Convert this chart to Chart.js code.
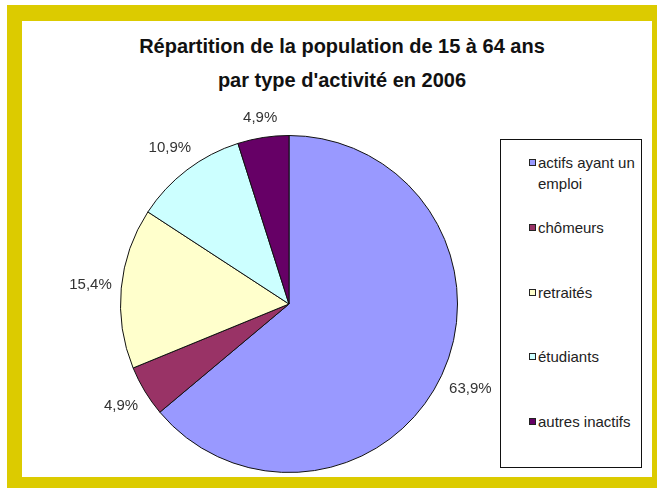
<!DOCTYPE html>
<html>
<head>
<meta charset="utf-8">
<script src="https://cdn.jsdelivr.net/npm/chart.js@4.4.0/dist/chart.umd.min.js"></script>
<style>
    body { margin: 0; width: 657px; height: 488px; background: #fff; overflow: hidden; position: relative; font-family: "Liberation Sans", Arial, sans-serif; }
    #frame { position: absolute; left: 7px; top: 5px; width: 650px; height: 483px; background: #dccb00; }
    #panel { position: absolute; left: 22px; top: 21px; width: 630px; height: 456px; background: #fff; }
    #title { position: absolute; left: 22px; width: 640px; top: 29px; text-align: center; font-weight: bold; font-size: 20px; line-height: 34px; color: #111; }
    #chart { position: absolute; left: 0; top: 0; }
    #legend { position: absolute; left: 500px; top: 139px; width: 140px; height: 327px; border: 1px solid #111; background: #fff; }
    .item { position: absolute; left: 37px; width: 104px; font-size: 15px; line-height: 21px; color: #222; }
    .box { position: absolute; left: -9px; top: 7px; width: 5px; height: 5px; border: 1px solid #222; }
</style>
</head>
<body>
<div id="frame"></div>
<div id="panel"></div>
<div id="title">Répartition de la population de 15 à 64 ans<br>par type d'activité en 2006</div>
<canvas id="chart" width="657" height="488"></canvas>
<div id="legend"></div>
<script>
// Chart data
const categories = ['actifs ayant un emploi', 'chômeurs', 'retraités', 'étudiants', 'autres inactifs'];
const percentages = [63.9, 4.9, 15.4, 10.9, 4.9];
const sliceColors = ['#9999ff', '#993366', '#ffffcc', '#ccffff', '#660066'];

// Build the legend from the arrays
const legend = document.getElementById('legend');
categories.forEach((name, i) => {
    const item = document.createElement('div');
    item.className = 'item';
    item.style.top = (12 + i * 64.8) + 'px';
    item.innerHTML = `<span class="box" style="background:${sliceColors[i]}"></span>${name}`;
    legend.appendChild(item);
});

// Percent labels outside each slice
const outsideLabels = {
    id: 'outsideLabels',
    afterDatasetsDraw(chart) {
        const ctx = chart.ctx;
        const meta = chart.getDatasetMeta(0);
        ctx.save();
        ctx.font = '15px "Liberation Sans", Arial, sans-serif';
        ctx.fillStyle = '#333';
        ctx.textAlign = 'center';
        ctx.textBaseline = 'middle';
        meta.data.forEach((arc, i) => {
            const p = arc.getProps(['x', 'y', 'startAngle', 'endAngle', 'outerRadius'], true);
            const mid = (p.startAngle + p.endAngle) / 2;
            const text = percentages[i].toFixed(1).replace('.', ',') + '%';
            const w = ctx.measureText(text).width;
            const cx = Math.cos(mid), sy = Math.sin(mid);
            const extent = Math.abs(cx) * w / 2 + Math.abs(sy) * 8;
            const d = p.outerRadius + 9 + extent;
            ctx.fillText(text, p.x + cx * d, p.y + sy * d);
        });
        ctx.restore();
    }
};

new Chart(document.getElementById('chart').getContext('2d'), {
    type: 'pie',
    data: {
        labels: categories,
        datasets: [{
            data: percentages,
            backgroundColor: sliceColors,
            borderColor: '#111',
            borderWidth: 1
        }]
    },
    options: {
        responsive: false,
        animation: false,
        layout: { padding: { left: 120, right: 199, top: 135, bottom: 15 } },
        plugins: {
            legend: { display: false },
            tooltip: { enabled: false }
        }
    },
    plugins: [outsideLabels]
});
</script>
</body>
</html>
